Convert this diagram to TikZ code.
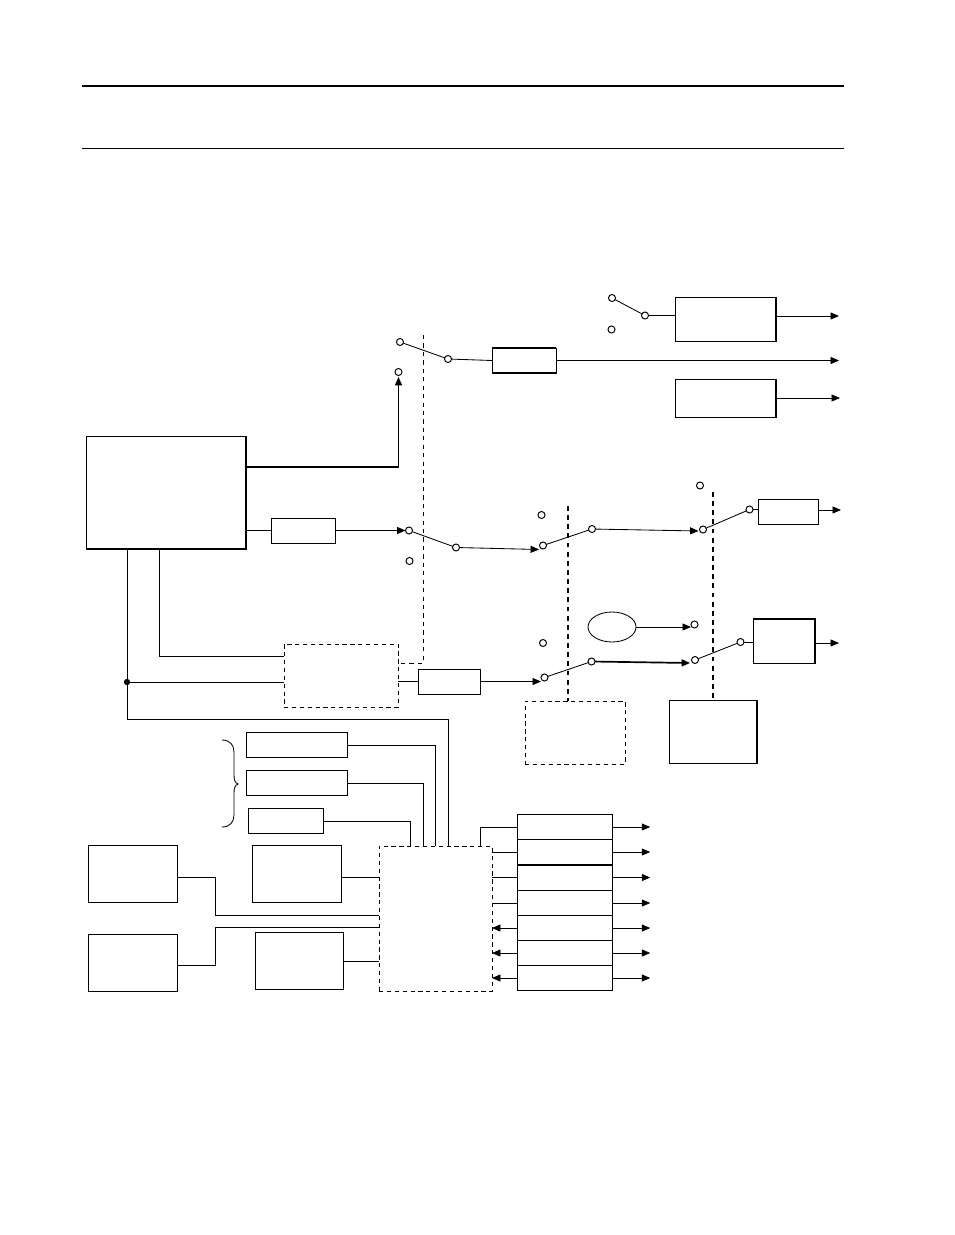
\documentclass[tikz,border=0pt]{standalone}
\usetikzlibrary{arrows.meta,shapes.geometric}
\begin{document}
\begin{tikzpicture}[x=0.025cm,y=-0.025cm,line width=0.6pt,
    >={Triangle[length=6pt,width=5pt]},
    block/.style={draw,inner sep=0pt,outer sep=0pt},
    dashblock/.style={block,dash pattern=on 3pt off 2.6pt},
    dim/.style 2 args={minimum width=#1*0.025cm,minimum height=#2*0.025cm},
    port/.style={circle,draw,fill=white,inner sep=0pt,outer sep=0pt,minimum size=5pt,line width=0.7pt},
    joint/.style={circle,fill,inner sep=0pt,outer sep=0pt,minimum size=4.5pt},
    heavy/.style={line width=1.2pt},
    sepline/.style={dash pattern=on 3pt off 3pt},
    sepheavy/.style={line width=1.2pt,dash pattern=on 3.5pt off 3pt}]
  \useasboundingbox (0,0) rectangle (954,1235);
  % page rules
  \path (82,86)  coordinate (ruleAl) (844,86)  coordinate (ruleAr)
        (82,148) coordinate (ruleBl) (844,148) coordinate (ruleBr);
  \draw[heavy] (ruleAl) -- (ruleAr);
  \draw (ruleBl) -- (ruleBr);
  % blocks
  \path (166,492.5) node[block,dim={160}{113}] (main)  {}
        (725.5,319) node[block,dim={101}{44}]  (boxP)  {}
        (725.5,398) node[block,dim={101}{38}]  (boxQ)  {}
        (524,360.5) node[block,dim={64}{25}]   (fltA)  {}
        (303,530.5) node[block,dim={64}{25}]   (fltB)  {}
        (449,681.5) node[block,dim={62}{25}]   (fltC)  {}
        (788,511.5) node[block,dim={60}{25}]   (boxR)  {}
        (784,641)   node[block,dim={62}{44}]   (boxF)  {}
        (713,731.5) node[block,dim={88}{63}]   (boxE)  {}
        (612,627)   node[block,ellipse,dim={48}{30}] (gen) {}
        (341,675.5) node[dashblock,dim={114}{63}]  (ctlD)  {}
        (575,732.5) node[dashblock,dim={100}{63}]  (ctlS)  {}
        (435.5,918.5) node[dashblock,dim={113}{145}] (frame) {};
  \path (297,745)   node[block,dim={101}{25}] (setA) {}
        (297,783)   node[block,dim={101}{25}] (setB) {}
        (286,821)   node[block,dim={75}{25}]  (setC) {}
        (133,874)   node[block,dim={89}{57}]  (srcA) {}
        (133,963)   node[block,dim={89}{57}]  (srcB) {}
        (297,874)   node[block,dim={89}{57}]  (modA) {}
        (299.5,961) node[block,dim={88}{57}]  (modB) {};
  \path (565,827)   node[block,dim={94.5}{25}] (rowA) {}
        (565,852)   node[block,dim={94.5}{25}] (rowB) {}
        (565,877.5) node[block,dim={94.5}{25}] (rowC) {}
        (565,903)   node[block,dim={94.5}{25}] (rowD) {}
        (565,928)   node[block,dim={94.5}{25}] (rowE) {}
        (565,953)   node[block,dim={94.5}{25}] (rowF) {}
        (565,978)   node[block,dim={94.5}{25}] (rowG) {};
  % heavier edges
  \draw[heavy] (main.north east) -- (main.south east) -- (main.south west);
  \draw[heavy] (boxP.north east) -- (boxP.south east);
  \draw[heavy] (boxQ.north east) -- (boxQ.south east);
  \draw[heavy] (fltA.north west) -- (fltA.north east);
  \draw[heavy] (fltA.south west) -- (fltA.south east);
  \draw[heavy] (boxF.north west) -- (boxF.north east) -- (boxF.south east);
  \draw[heavy] (boxE.north east) -- (boxE.south east);
  \draw[heavy] (rowB.south west) -- (rowB.south east);
  % free ends and bends
  \path (839,316) coordinate (outP)
        (839,360.5) coordinate (outA)
        (840,398) coordinate (outQ)
        (841,510) coordinate (outR)
        (839,643) coordinate (outF)
        (398.5,467) coordinate (bendUp)
        (159,549) coordinate (tapS)
        (284,656) coordinate (inS)
        (127,549) coordinate (tapJ)
        (284,682) coordinate (inJ)
        (448,719) coordinate (bendJ)
        (448,846) coordinate (topJ)
        (435.5,846) coordinate (topA)
        (423.5,846) coordinate (topB)
        (410.5,846) coordinate (topC)
        (480.5,846) coordinate (topR)
        (215,877) coordinate (turnA)
        (215,915) coordinate (turnB)
        (215,965) coordinate (turnC)
        (215,927) coordinate (turnD)
        (539,549.5) coordinate (tipC)
        (698.5,531) coordinate (tipD)
        (690,663) coordinate (tipF);
  % separator lines
  \path (423,335) coordinate (sepAt) (423,663) coordinate (sepAb) (398.5,663) coordinate (sepAl)
        (568,506) coordinate (sepBt) (713,492) coordinate (sepCt);
  \draw[sepline] (sepAt) -- (sepAb) -- (sepAl);
  \draw[sepheavy] (sepBt) -- (sepBt |- ctlS.north);
  \draw[sepheavy] (sepCt) -- (boxE.north);
  % connectors of the upper part
  \draw[->,heavy] (main.east |- bendUp) -- (bendUp) -- (398.5,377);
  \draw (main.east |- fltB) -- (fltB.west);
  \draw[->] (fltA.east) -- (outA);
  \draw[->] (boxP.east |- outP) -- (outP);
  \draw[->] (boxQ.east) -- (outQ);
  \draw[->] (boxR.east |- outR) -- (outR);
  \draw[->] (boxF.east |- outF) -- (outF);
  % connectors of the middle part
  \draw (tapS) |- (inS);
  \draw (tapJ) |- (bendJ) -- (topJ);
  \path (127,682) node[joint] (dot) {};
  \draw (dot) -- (inJ);
  \draw (ctlD.east |- fltC) -- (fltC.west);
  % groups of inputs
  \draw (setA.east) -| (topA);
  \draw (setB.east) -| (topB);
  \draw (setC.east) -| (topC);
  \draw (srcA.east |- turnA) -- (turnA) -- (turnB) -- (turnB -| frame.west);
  \draw (srcB.east |- turnC) -- (turnC) -- (turnD) -- (turnD -| frame.west);
  \draw (modA.east |- turnA) -- (turnA -| frame.west);
  \draw (modB.east) -- (modB -| frame.west);
  \draw (rowA.west) -| (topR);
  \draw (rowB.west) -- (rowB -| frame.east);
  \draw (rowC.west) -- (rowC -| frame.east);
  \draw (rowD.west) -- (rowD -| frame.east);
  \draw[->] (rowE.west) -- (rowE -| frame.east);
  \draw[->] (rowF.west) -- (rowF -| frame.east);
  \draw[->] (rowG.west) -- (rowG -| frame.east);
  \draw[->] (rowA.east) -- +(38,0);
  \draw[->] (rowB.east) -- +(38,0);
  \draw[->] (rowC.east) -- +(38,0);
  \draw[->] (rowD.east) -- +(38,0);
  \draw[->] (rowE.east) -- +(38,0);
  \draw[->] (rowF.east) -- +(38,0);
  \draw[->] (rowG.east) -- +(38,0);
  % brace of the three settings
  \draw (222,740) .. controls (230,740) and (234,745) .. (234,752) -- (234,775)
        .. controls (234,780) and (235,783) .. (238,784)
        .. controls (235,785) and (234,788) .. (234,793) -- (234,815)
        .. controls (234,822) and (230,827) .. (222,827);
  % switches
  \path (612,298)   node[port] (swPa) {}
        (645,315.5) node[port] (swPb) {}
        (611.5,329.5) node[port] (swPc) {}
        (400,342)   node[port] (swAa) {}
        (448,359)   node[port] (swAb) {}
        (398.5,372) node[port] (swAc) {}
        (409,530.5) node[port] (swBa) {}
        (456,547.5) node[port] (swBb) {}
        (409.5,561) node[port] (swBc) {}
        (543,545.5) node[port] (swCa) {}
        (592,529)   node[port] (swCb) {}
        (541.5,515) node[port] (swCc) {}
        (703,529.5) node[port] (swDa) {}
        (749.5,509.5) node[port] (swDb) {}
        (700,485.5) node[port] (swDc) {}
        (544.5,677.5) node[port] (swEa) {}
        (591.5,661.5) node[port] (swEb) {}
        (543,643)   node[port] (swEc) {}
        (695,660)   node[port] (swFa) {}
        (740.5,642) node[port] (swFb) {}
        (694.5,624.5) node[port] (swFc) {};
  \draw (swPa) -- (swPb);
  \draw (swAa) -- (swAb);
  \draw (swBa) -- (swBb);
  \draw (swCa) -- (swCb);
  \draw (swDa) -- (swDb);
  \draw (swEa) -- (swEb);
  \draw (swFa) -- (swFb);
  \draw (swPb) -- (swPb -| boxP.west);
  \draw (swAb) -- (fltA.west);
  \draw[->] (fltB.east) -- (swBa);
  \draw[->] (swBb) -- (tipC);
  \draw[->] (swCb) -- (tipD);
  \draw (swDb) -- (swDb -| boxR.west);
  \draw[->] (fltC.east) -- (fltC -| swEa.west);
  \draw[->,heavy] (swEb) -- (tipF);
  \draw[->] (gen) -- (gen -| swFc.west);
  \draw (swFb) -- (swFb -| boxF.west);
\end{tikzpicture}
\end{document}
